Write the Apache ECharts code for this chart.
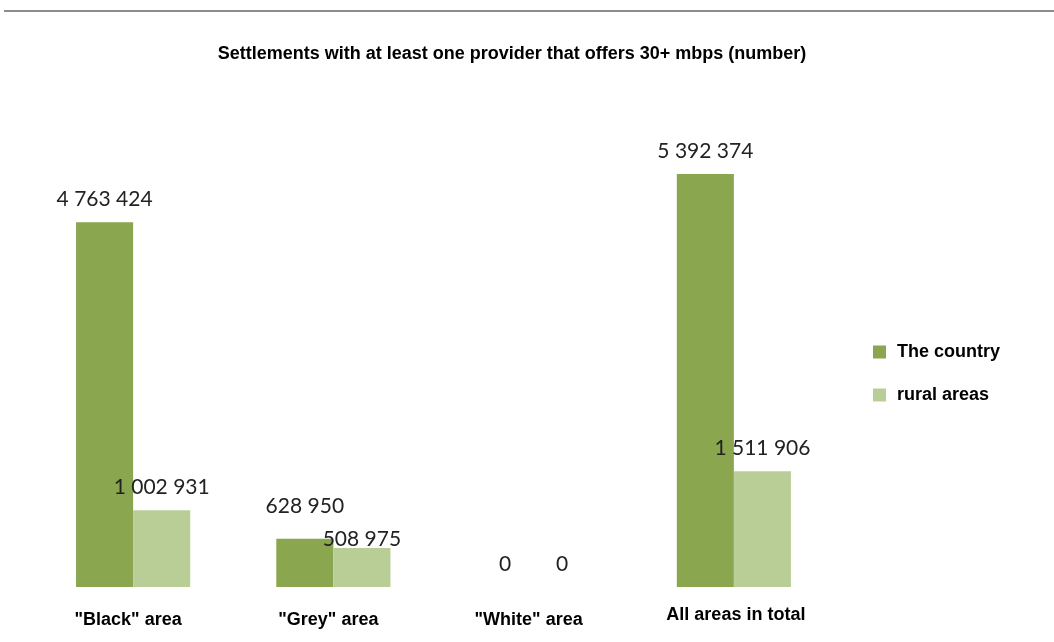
<!DOCTYPE html>
<html>
<head>
<meta charset="utf-8">
<script src="https://cdn.jsdelivr.net/npm/echarts@6/dist/echarts.min.js"></script>
<style>
  html, body { margin: 0; padding: 0; background: #fff; }
  #chart { width: 1054px; height: 642px; }
</style>
</head>
<body>
<div id="chart"></div>
<script>
// Settlements with 30+ mbps coverage, by area type
const categories = ['"Black" area', '"Grey" area', '"White" area', 'All areas in total'];
const countryValues = [4763424, 628950, 0, 5392374];
const ruralValues = [1002931, 508975, 0, 1511906];
const seriesNames = ['The country', 'rural areas'];

const COUNTRY_COLOR = '#8aa64e';
const RURAL_COLOR = '#b9ce97';

// thousands separated by a space, e.g. 4 763 424
function fmt(v) {
  return String(v).replace(/\B(?=(\d{3})+(?!\d))/g, ' ');
}

const labelBase = {
  show: true,
  position: 'top',
  distance: 12,
  fontFamily: 'Lato',
  fontSize: 21,
  color: '#222',
  formatter: p => fmt(p.value)
};

// the grey-area labels sit a little apart so they don't collide
function withOffsets(values, offsets) {
  return values.map((v, i) => offsets[i]
    ? { value: v, label: { offset: offsets[i] } }
    : v);
}

const boldText = { fontFamily: 'Liberation Sans', fontWeight: 'bold', fontSize: 18, color: '#000' };

const chart = echarts.init(document.getElementById('chart'), null, { renderer: 'canvas' });
chart.setOption({
  animation: false,
  backgroundColor: '#fff',
  title: {
    text: 'Settlements with at least one provider that offers 30+ mbps (number)',
    left: 507,
    textAlign: 'center',
    top: 40,
    textStyle: boldText
  },
  graphic: [{
    type: 'rect',
    shape: { x: 4, y: 10, width: 1050, height: 2 },
    style: { fill: '#8c8c8c' }
  }],
  legend: {
    orient: 'vertical',
    left: 868,
    top: 338,
    itemWidth: 13,
    itemHeight: 13,
    itemGap: 25,
    icon: 'rect',
    textStyle: Object.assign({ padding: [0, 0, 0, 6] }, boldText),
    data: seriesNames
  },
  grid: { left: 33, width: 801, top: 127.5, bottom: 55, containLabel: false },
  xAxis: {
    type: 'category',
    data: categories,
    axisLine: { show: false },
    axisTick: { show: false },
    axisLabel: Object.assign({
      interval: 0,
      margin: 19,
      formatter: (v, i) => (i === 3 ? '{hi|' : '{n|') + v + '}',
      rich: {
        hi: Object.assign({ padding: [0, 0, 0, 4] }, boldText),
        n: Object.assign({ padding: [5, 10, 0, 0] }, boldText)
      }
    }, boldText)
  },
  yAxis: {
    type: 'value',
    min: 0,
    max: 6000000,
    show: false,
    splitLine: { show: false }
  },
  series: [
    {
      name: seriesNames[0],
      type: 'bar',
      data: withOffsets(countryValues, { 1: [0, -10] }),
      itemStyle: { color: COUNTRY_COLOR },
      barGap: '0%',
      barCategoryGap: '43%',
      label: labelBase
    },
    {
      name: seriesNames[1],
      type: 'bar',
      data: withOffsets(ruralValues, { 1: [0, 14] }),
      itemStyle: { color: RURAL_COLOR },
      barGap: '0%',
      barCategoryGap: '43%',
      label: labelBase
    }
  ]
});
</script>
</body>
</html>
